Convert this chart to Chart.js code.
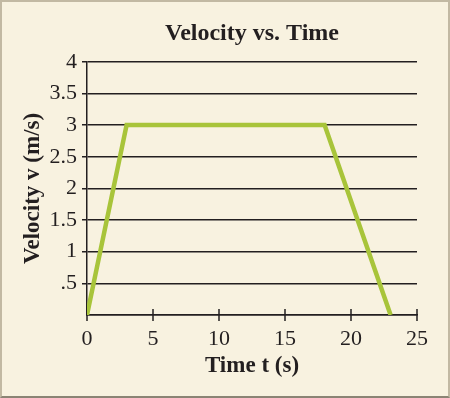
<!DOCTYPE html>
<html>
<head>
<meta charset="utf-8">
<script src="https://cdn.jsdelivr.net/npm/chart.js@4/dist/chart.umd.min.js"></script>
<style>
  html, body { margin: 0; padding: 0; background: #f8f2e0; }
  #frame {
    width: 450px; height: 398px; box-sizing: border-box;
    border: 2px solid #c2b9a3; border-bottom: 2px solid #8b8474;
    background: #f8f2e0;
  }
  #c { display: block; }
</style>
</head>
<body>
<div id="frame"><canvas id="c" width="446" height="394"></canvas></div>
<script>
// ---- data ----
const timeValues = [0, 3, 18, 23];
const velocityValues = [0, 3, 3, 0];
const chartTitle = 'Velocity vs. Time';
const xAxisTitle = 'Time t (s)';
const yAxisTitle = 'Velocity v (m/s)';
const xTicks = [0, 5, 10, 15, 20, 25];
const yTicks = [0, 0.5, 1, 1.5, 2, 2.5, 3, 3.5, 4];

const points = timeValues.map((t, i) => ({ x: t, y: velocityValues[i] }));
const SERIF = "'Liberation Serif', 'DejaVu Serif', serif";
const INK = '#231f20';

const xTickMarks = {
  id: 'xTickMarks',
  beforeDatasetsDraw(chart) {
    const { ctx, scales: { x }, chartArea } = chart;
    ctx.save();
    ctx.strokeStyle = INK;
    ctx.lineWidth = 1.5;
    x.ticks.forEach(t => {
      const px = x.getPixelForValue(t.value);
      ctx.beginPath();
      ctx.moveTo(px, chartArea.bottom - 6);
      ctx.lineTo(px, chartArea.bottom + 6);
      ctx.stroke();
    });
    ctx.restore();
  }
};

new Chart(document.getElementById('c'), {
  type: 'scatter',
  data: {
    datasets: [{
      data: points,
      showLine: true,
      borderColor: '#a8c43a',
      backgroundColor: '#a8c43a',
      borderWidth: 4.5,
      pointRadius: 0,
      tension: 0
    }]
  },
  options: {
    responsive: false,
    animation: false,
    devicePixelRatio: 1,
    layout: { padding: { left: 0, right: 31, top: 0, bottom: 0 } },
    plugins: {
      legend: { display: false },
      tooltip: { enabled: false },
      title: {
        display: true,
        fullSize: false,
        text: chartTitle,
        color: INK,
        font: { family: SERIF, size: 24, weight: 'bold' },
        padding: { top: 17, bottom: 14 }
      }
    },
    scales: {
      x: {
        type: 'linear',
        min: 0, max: 25,
        afterBuildTicks(scale) { scale.ticks = xTicks.map(v => ({ value: v })); },
        afterFit(scale) { scale.height = 81; },
        grid: { display: true, drawOnChartArea: false, drawTicks: false },
        border: { display: true, color: INK, width: 1.5 },
        ticks: {
          autoSkip: false,
          maxRotation: 0,
          padding: 11,
          color: INK,
          font: { family: SERIF, size: 22 }
        },
        title: {
          display: true,
          text: xAxisTitle,
          color: INK,
          font: { family: SERIF, size: 23, weight: 'bold' },
          padding: { top: 0, bottom: 16 }
        }
      },
      y: {
        type: 'linear',
        min: 0, max: 4,
        afterBuildTicks(scale) { scale.ticks = yTicks.map(v => ({ value: v })); },
        afterFit(scale) { scale.width = 85; },
        grid: {
          color: INK,
          lineWidth: 1.5,
          tickLength: 5,
          tickColor: ctx => (ctx.tick && ctx.tick.value === 0) ? 'rgba(0,0,0,0)' : INK
        },
        border: { display: true, color: INK, width: 1.5 },
        ticks: {
          autoSkip: false,
          padding: 5,
          color: INK,
          font: { family: SERIF, size: 22 },
          callback: v => v === 0 ? '' : String(v).replace(/^0\./, '.')
        },
        title: {
          display: true,
          text: yAxisTitle,
          color: INK,
          font: { family: SERIF, size: 23, weight: 'bold' },
          padding: { top: 17, bottom: 0 }
        }
      }
    }
  },
  plugins: [xTickMarks]
});
</script>
</body>
</html>
